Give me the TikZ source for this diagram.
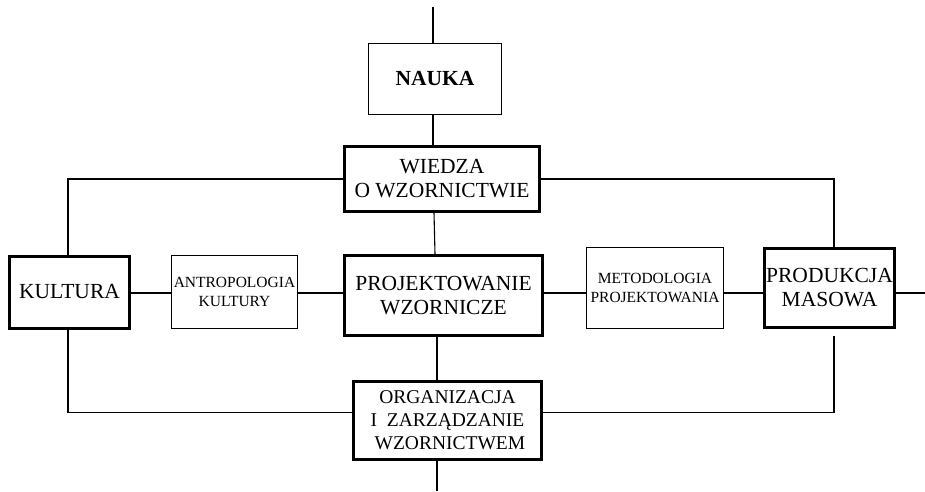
\documentclass[tikz,border=0pt]{standalone}
\usepackage{fontspec}
\setmainfont{Liberation Serif}
\usepackage{tikz}
\usetikzlibrary{positioning}

\tikzset{
  fieldbox/.style={draw,line width=1.3pt,inner sep=1pt,align=center,
    font=\fontsize{21.5}{24}\selectfont},
  corebox/.style={fieldbox,line width=3pt},
  subbox/.style={fieldbox,font=\fontsize{15.5}{19}\selectfont},
  link/.style={line width=1.1pt}
}

\begin{document}
\begin{tikzpicture}[x=1pt,y=1pt]
  \useasboundingbox (0,0) rectangle (925,491);
  \node[corebox,minimum width=198pt,minimum height=80pt] (proj) at (443.5,195.5)
    {PROJEKTOWANIE\\WZORNICZE};
  \node[corebox,minimum width=195pt,minimum height=65pt,above=41pt of proj,xshift=-1.5pt] (wiedza)
    {WIEDZA\\O WZORNICTWIE};
  \node[fieldbox,minimum width=132.7pt,minimum height=70.7pt,above=30pt of wiedza,xshift=-7pt] (nauka)
    {\textbf{NAUKA}};
  \node[corebox,minimum width=188pt,minimum height=78pt,below=43pt of proj,xshift=4pt,
    font=\fontsize{19.5}{23}\selectfont] (org)
    {ORGANIZACJA\\I\ \ ZARZĄDZANIE\\\ WZORNICTWEM};
  \node[subbox,minimum width=125.7pt,minimum height=72.7pt,left=45pt of proj,yshift=3.5pt] (antro)
    {ANTROPOLOGIA\\KULTURY};
  \node[corebox,minimum width=120pt,minimum height=72pt,left=40pt of antro] (kult) {KULTURA};
  \node[subbox,minimum width=136.7pt,minimum height=80.7pt,right=42pt of proj,yshift=7.5pt] (metod)
    {METODOLOGIA\\PROJEKTOWANIA};
  \node[corebox,minimum width=130pt,minimum height=79pt,right=39pt of metod] (prod)
    {PRODUKCJA\\MASOWA};
  % free ends and guide lines
  \coordinate (top) at (433,484);
  \coordinate (bot) at (437,0);
  \coordinate (mid) at (0,198);
  \coordinate (exit) at (925,198);
  % vertical axis
  \draw[link] (top) -- (nauka.north -| top);
  \draw[link] (nauka.south -| top) -- (wiedza.north -| top);
  \draw[link] ([xshift=1pt]wiedza.south -| top) -- ([xshift=2pt]proj.north -| top);
  \draw[link] (proj.south -| bot) -- (org.north -| bot);
  \draw[link] (org.south -| bot) -- (bot);
  % middle row
  \draw[link] (kult.east |- mid) -- (antro.west |- mid);
  \draw[link] (antro.east |- mid) -- (proj.west |- mid);
  \draw[link] (proj.east |- mid) -- (metod.west |- mid);
  \draw[link] (metod.east |- mid) -- (prod.west |- mid);
  \draw[link] (prod.east |- mid) -- (exit);
  % outer ring
  \draw[link] (wiedza.west) -| ([xshift=-1.5pt]kult.north);
  \draw[link] (wiedza.east) -| ([xshift=4.5pt]prod.north);
  \draw[link] ([xshift=-1.5pt]kult.south) |- ([yshift=8pt]org.west);
  \draw[link] ([xshift=4.5pt,yshift=-7pt]prod.south) |- ([yshift=8pt]org.east);
\end{tikzpicture}
\end{document}
